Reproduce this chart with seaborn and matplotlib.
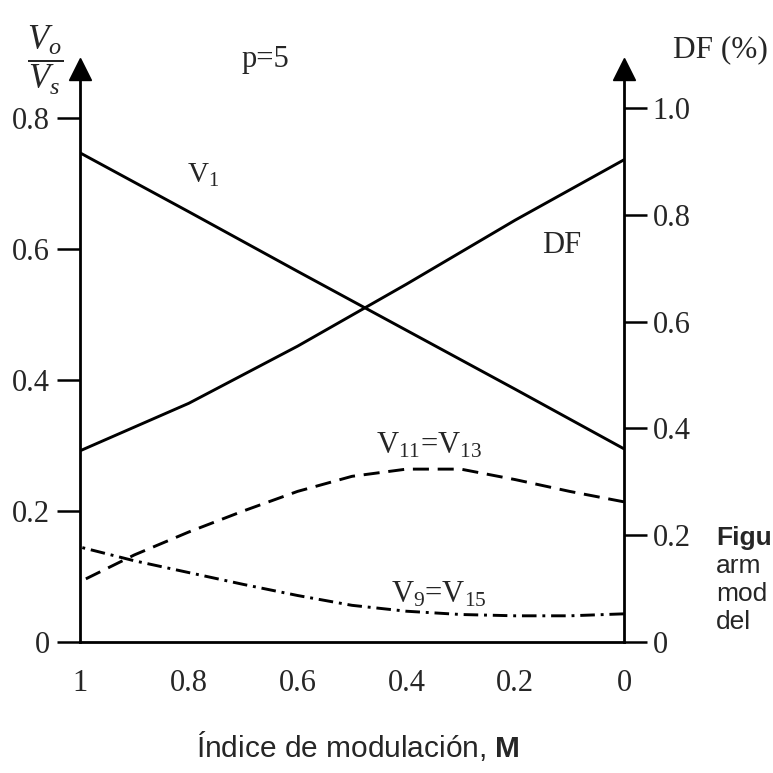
import numpy as np
import pandas as pd
import matplotlib
matplotlib.use("Agg")
import matplotlib.pyplot as plt
import seaborn as sns

sns.set_style("white")
plt.rcParams['font.family'] = ['Liberation Serif', 'DejaVu Serif']
plt.rcParams['mathtext.fontset'] = 'custom'
plt.rcParams['mathtext.rm'] = 'Liberation Serif'
plt.rcParams['mathtext.it'] = 'Liberation Serif:italic'
plt.rcParams['mathtext.bf'] = 'Liberation Sans:bold'

# --- datos ---
m_lin = [1.0, 0.8, 0.6, 0.4, 0.2, 0.0]
v1 = [0.747, 0.657, 0.566, 0.476, 0.386, 0.295]
df_pct = [0.358, 0.447, 0.554, 0.670, 0.790, 0.903]

m_arm = [1.0, 0.9, 0.8, 0.7, 0.6, 0.5, 0.4, 0.3, 0.2, 0.1, 0.0]
v11 = [0.092, 0.133, 0.168, 0.200, 0.230, 0.253, 0.264, 0.264, 0.248, 0.230, 0.214]
v9 = [0.145, 0.124, 0.106, 0.088, 0.071, 0.056, 0.047, 0.042, 0.040, 0.040, 0.043]

x_ticks = [1.0, 0.8, 0.6, 0.4, 0.2, 0.0]
x_labels = ['1', '0.8', '0.6', '0.4', '0.2', '0']
left_ticks = [0.0, 0.2, 0.4, 0.6, 0.8]
left_labels = ['0', '0.2', '0.4', '0.6', '0.8']
right_ticks = [0.0, 0.2, 0.4, 0.6, 0.8, 1.0]
right_labels = ['0', '0.2', '0.4', '0.6', '0.8', '1.0']

W = 773
fig = plt.figure(figsize=(7.73, 7.73), dpi=100)
ax = fig.add_axes([80 / W, 131 / W, 544 / W, 573 / W])
ax2 = ax.twinx()

lw = 2.1
sns.lineplot(x=m_lin, y=v1, ax=ax, color='black', lw=lw)
sns.lineplot(x=m_arm, y=v11, ax=ax, color='black', lw=lw, linestyle=(0, (5.5, 3)))
sns.lineplot(x=m_arm, y=v9, ax=ax, color='black', lw=lw, linestyle=(0, (5, 2, 1, 2)))
sns.lineplot(x=m_lin, y=df_pct, ax=ax2, color='black', lw=lw)

ax.set_xlim(1.0, 0.0)
ax.set_ylim(0, 0.875)
ax2.set_ylim(0, 1.073)

for a in (ax, ax2):
    a.set_xlabel('')
    a.set_ylabel('')
    for s in a.spines.values():
        s.set_visible(False)
ax.spines['left'].set_visible(True)
ax.spines['bottom'].set_visible(True)
ax2.spines['right'].set_visible(True)
for s in (ax.spines['left'], ax.spines['bottom'], ax2.spines['right']):
    s.set_linewidth(2.0)
    s.set_color('black')

tick_kw = dict(length=16.5, width=1.8, color='black', labelsize=22, direction='out')
ax.set_xticks(x_ticks)
ax.set_xticklabels(x_labels)
ax.set_yticks(left_ticks)
ax.set_yticklabels(left_labels)
ax.tick_params(axis='x', pad=3, **tick_kw)
ax.tick_params(axis='y', pad=5, left=True, right=False, **tick_kw)
ax2.set_yticks(right_ticks)
ax2.set_yticklabels(right_labels)
ax2.tick_params(axis='y', pad=4, right=True, left=False, **tick_kw)

# flechas en los ejes
ax.plot([0], [1], marker='^', ms=16, color='black', transform=ax.transAxes, clip_on=False)
ax.plot([1], [1], marker='^', ms=16, color='black', transform=ax.transAxes, clip_on=False)

# etiquetas de curvas
lab = dict(fontsize=22, ha='center', va='center')
ax.text(0.773, 0.713, r'V$_1$', fontsize=21, ha='center', va='center')
ax.text(0.114, 0.606, 'DF', **lab)
ax.text(0.359, 0.299, r'V$_{11}$=V$_{13}$', **lab)
ax.text(0.341, 0.072, r'V$_9$=V$_{15}$', **lab)
ax.text(0.659, 0.889, 'p=5', **lab)

fig.text(45 / W, 1 - 60 / W, r'$\dfrac{V_o}{V_s}$', fontsize=25, ha='center', va='center')
fig.text(720 / W, 1 - 50 / W, 'DF (%)', fontsize=22.5, ha='center', va='center')
fig.text(358 / W, 1 - 746 / W, r'Índice de modulación, $\mathbf{M}$', fontsize=21.5,
         ha='center', va='center', family='Liberation Sans')

# pie de figura junto al borde derecho
cap = dict(fontsize=19, family='Liberation Sans', ha='left', va='baseline')
fig.text(716 / W, 1 - 545 / W, 'Figu', fontweight='bold', **cap)
fig.text(716 / W, 1 - 573 / W, 'arm', **cap)
fig.text(716 / W, 1 - 601 / W, 'mod', **cap)
fig.text(716 / W, 1 - 629 / W, 'del', **cap)

fig.savefig('out.png', dpi=100, facecolor='white')
